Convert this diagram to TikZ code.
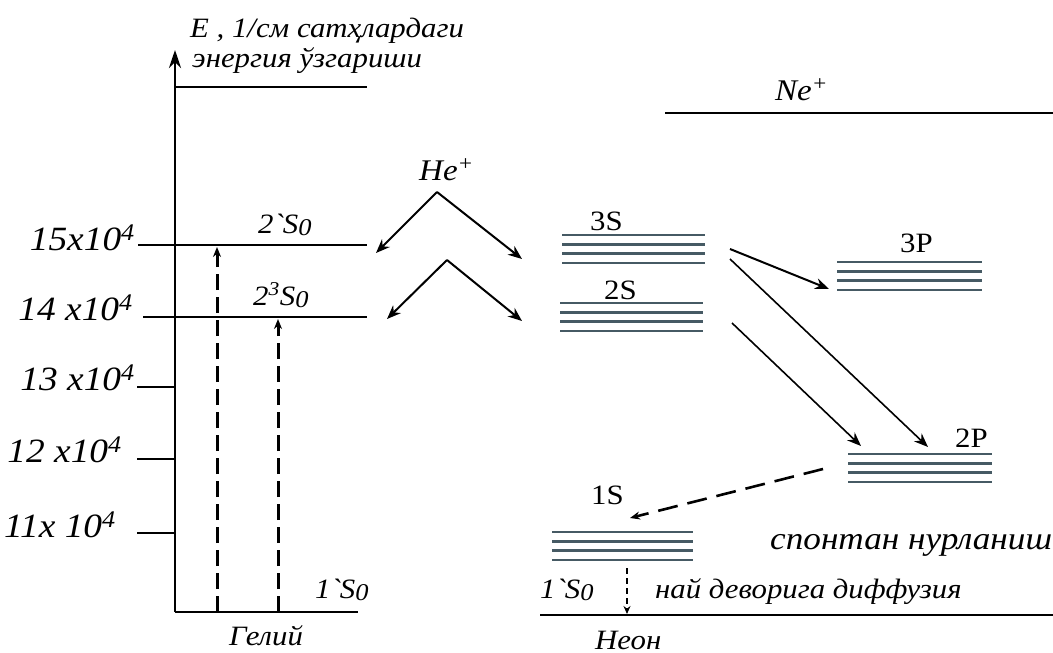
\documentclass[tikz,border=0pt]{standalone}
\usepackage{fontspec}
\setmainfont{Liberation Serif}[FakeStretch=1.1]
\usetikzlibrary{arrows.meta}
\definecolor{lev}{RGB}{70,90,100}
\begin{document}
\begin{tikzpicture}[x=1pt,y=-1pt,
  cyr/.style={inner sep=0pt, anchor=base west, font=\itshape\fontsize{28}{30}\selectfont},
  num/.style={inner sep=0pt, anchor=base east, font=\itshape\fontsize{34}{36}\selectfont},
  term/.style={inner sep=0pt, anchor=base west, font=\itshape\fontsize{28}{30}\selectfont},
  lab/.style={inner sep=0pt, anchor=base west, font=\fontsize{28}{30}\selectfont},
  ion/.style={inner sep=0pt, anchor=base west, font=\itshape\fontsize{30}{32}\selectfont},
  level/.style={draw=lev, line width=2.6pt},
  axis/.style={line width=2.8pt},
  arr/.style={line width=2pt, -{Stealth[length=14pt,width=11pt]}},
  dasharr/.style={line width=3pt, dash pattern=on 16pt off 7pt, -{Stealth[length=10pt,width=8pt]}},
]
\useasboundingbox (0,0) rectangle (1053,653);
\clip (0,0) rectangle (1053,653);
\newcommand{\sub}[1]{{\fontsize{24}{26}\selectfont\raisebox{-2pt}{#1}}}
% axis
\coordinate (O) at (175,612);
\coordinate (top) at (175,50);
\draw[axis,-{Stealth[length=18pt,width=12pt]}] (O) -- (top);
\draw[axis] (175,87) -- (367,87);
\draw[axis] (O) -- (358,612);
% ticks and He levels
\coordinate (he1) at (367,245);
\coordinate (he3) at (367,317);
\draw[axis] (138,245) -- (he1);
\draw[axis] (143,317) -- (he3);
\draw[axis] (137,387) -- (175,387);
\draw[axis] (137,459) -- (175,459);
\draw[axis] (137,533) -- (175,533);
\node[num] (t15) at (135,250) {15x10\textsuperscript{4}};
\node[num] (t14) at (133,320) {14 x10\textsuperscript{4}};
\node[num] (t13) at (135,390) {13 x10\textsuperscript{4}};
\node[num] (t12) at (122,462) {12 x10\textsuperscript{4}};
\node[num] (t11) at (116,537) {11x 10\textsuperscript{4}};
% title
\node[cyr] (title1) at (190,37) {Е , 1/см сатҳлардаги};
\node[cyr] (title2) at (192,67) {энергия ўзгариши};
% He labels
\node[term] (s1) at (258,233) {2\textasciigrave S\sub{0}};
\node[term] (s3) at (253,305) {2\textsuperscript{3}S\sub{0}};
\node[term] (s0) at (315,598) {1\textasciigrave S\sub{0}};
\node[cyr] (gel) at (229,645) {Гелий};
% dashed excitation arrows
\draw[dasharr] (217,612) -- (217,247);
\draw[dasharr] (278,612) -- (278,319);
% He+ chevrons
\node[ion] (hep) at (419,180) {He\textsuperscript{+}};
\coordinate (ap1) at (437,192);
\coordinate (ap2) at (447,260);
\draw[arr] (ap1) -- (376,253);
\draw[arr] (ap1) -- (522,259);
\draw[arr] (ap2) -- (387,319);
\draw[arr] (ap2) -- (522,321);
% Ne+
\node[ion] (nep) at (775,100) {Ne\textsuperscript{+}};
\draw[axis] (665,113) -- (1053,113);
% Ne levels
\foreach \y in {0,9.3,18.6,28}{
  \draw[level] (562,{235+\y}) -- (705,{235+\y});
  \draw[level] (560,{303+\y}) -- (703,{303+\y});
  \draw[level] (837,{262+\y}) -- (982,{262+\y});
  \draw[level] (848,{454+\y}) -- (992,{454+\y});
  \draw[level] (552,{532+\y}) -- (693,{532+\y});
}
\node[lab] (l3s) at (590,230) {3S};
\node[lab] (l2s) at (604,299) {2S};
\node[lab] (l3p) at (900,252) {3P};
\node[lab] (l2p) at (955,447) {2P};
\node[lab] (l1s) at (591,504) {1S};
% Ne transitions
\coordinate (a3s) at (730,249);
\coordinate (b3s) at (730,259);
\coordinate (a2s) at (732,323);
\coordinate (e3p) at (829,289);
\coordinate (e2pa) at (928,447);
\coordinate (e2pb) at (861,446);
\draw[arr] (a3s) -- (e3p);
\draw[arr,line width=1.6pt] (b3s) -- (e2pa);
\draw[arr,line width=1.6pt] (a2s) -- (e2pb);
\coordinate (sp1) at (823,469);
\coordinate (sp2) at (630,518);
\draw[line width=2.6pt, dash pattern=on 20pt off 10pt, -{Stealth[length=10pt,width=8pt]}] (sp1) -- (sp2);
\node[cyr,font=\itshape\fontsize{32}{34}\selectfont] (spon) at (770,549) {спонтан нурланиш};
% Ne ground
\draw[axis] (540,615) -- (1053,615);
\draw[line width=2.2pt, dash pattern=on 6pt off 4pt, -{Stealth[length=8pt,width=7pt]}] (627,568) -- (627,614);
\node[term] (n0) at (540,598) {1\textasciigrave S\sub{0}};
\node[cyr] (diff) at (655,598) {най деворига диффузия};
\node[cyr] (neon) at (595,649) {Неон};
\end{tikzpicture}
\end{document}
